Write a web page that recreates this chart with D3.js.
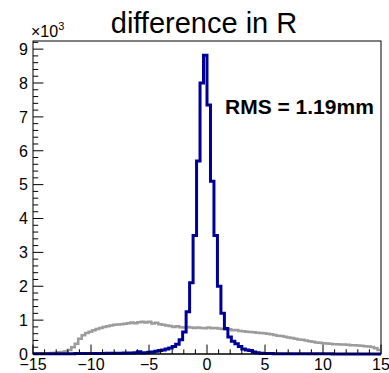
<!DOCTYPE html>
<html>
<head>
<meta charset="utf-8">
<script src="https://cdn.jsdelivr.net/npm/d3@7"></script>
<style>
  html, body { margin: 0; padding: 0; background: #fff; }
  svg { display: block; }
  text { font-family: "Liberation Sans", Arial, Helvetica, sans-serif; }
</style>
</head>
<body>
<svg id="chart" width="389" height="373"></svg>
<script>
// ---- data ----
const title = "difference in R";
const xMin = -15, xMax = 15, nBins = 100;
const xTicks = [-15, -10, -5, 0, 5, 10, 15];
const yTicks = [0, 1000, 2000, 3000, 4000, 5000, 6000, 7000, 8000, 9000];
const yTickLabels = ["0", "1", "2", "3", "4", "5", "6", "7", "8", "9"];
const rmsLabel = "RMS = 1.19mm";

// blue histogram (counts per bin, 0.3 mm bins from -15 to 15)
const blueCounts = [
  5, 5, 6, 6, 7, 7, 8, 8, 9, 10,
  10, 11, 12, 12, 13, 14, 15, 15, 16, 18,
  18, 19, 20, 22, 23, 24, 26, 28, 30, 35,
  65, 30, 35, 50, 60, 80, 100, 120, 150, 180,
  220, 290, 420, 650, 1250, 2100, 3500, 5700, 8000, 8820,
  7350, 5100, 3500, 2000, 1200, 750, 500, 380, 300, 220,
  150, 120, 100, 60, 35, 25, 18, 14, 12, 10,
  9, 8, 8, 7, 7, 6, 6, 5, 5, 5,
  5, 4, 4, 4, 4, 4, 3, 3, 3, 3,
  3, 3, 3, 3, 2, 2, 2, 2, 2, 2
];
// gray histogram
const grayCounts = [
  10, 10, 15, 20, 25, 30, 40, 50, 60, 80,
  120, 200, 300, 450, 550, 620, 660, 700, 740, 770,
  800, 820, 840, 860, 870, 880, 890, 910, 930, 910,
  940, 950, 930, 950, 900, 920, 880, 860, 840, 830,
  800, 820, 790, 780, 800, 780, 770, 780, 770, 760,
  780, 760, 770, 750, 740, 720, 730, 700, 710, 680,
  670, 660, 650, 640, 630, 620, 610, 600, 580, 560,
  540, 530, 510, 490, 470, 450, 430, 420, 400, 380,
  360, 340, 330, 320, 310, 300, 290, 290, 280, 280,
  270, 260, 260, 250, 240, 230, 220, 210, 170, 120
];

// ---- layout ----
const svg = d3.select("#chart");
const frame = { left: 33, right: 381, top: 41, bottom: 354 };
const x = d3.scaleLinear().domain([xMin, xMax]).range([frame.left, frame.right]);
const y = d3.scaleLinear().domain([0, 9240]).range([frame.bottom, frame.top]);

const binW = (xMax - xMin) / nBins;
function stepPoints(counts) {
  const pts = [];
  counts.forEach((c, i) => {
    const x0 = xMin + i * binW, x1 = x0 + binW;
    pts.push([x0, c], [x1, c]);
  });
  return pts;
}
const line = d3.line().x(d => x(d[0])).y(d => y(d[1]));

const clip = svg.append("clipPath").attr("id", "fclip")
  .append("rect")
  .attr("x", frame.left).attr("y", frame.top)
  .attr("width", frame.right - frame.left).attr("height", frame.bottom - frame.top + 2);

// frame
svg.append("rect")
  .attr("x", frame.left).attr("y", frame.top)
  .attr("width", frame.right - frame.left).attr("height", frame.bottom - frame.top)
  .attr("fill", "none").attr("stroke", "#000").attr("stroke-width", 1);

// histograms
svg.append("path")
  .attr("d", line(stepPoints(grayCounts)))
  .attr("fill", "none").attr("stroke", "#9c9c9c").attr("stroke-width", 2.5)
  .attr("clip-path", "url(#fclip)");
svg.append("path")
  .attr("d", line(stepPoints(blueCounts)))
  .attr("fill", "none").attr("stroke", "#000099").attr("stroke-width", 3)
  .attr("clip-path", "url(#fclip)");

// x axis (bottom)
const xAxis = d3.axisTop(x).tickValues(d3.range(xMin, xMax + 0.001, 1))
  .tickSize(0).tickFormat("");
const gx = svg.append("g").attr("transform", `translate(0,${frame.bottom})`);
d3.range(xMin, xMax + 0.001, 1).forEach(v => {
  const major = xTicks.includes(v);
  gx.append("line")
    .attr("x1", x(v)).attr("x2", x(v))
    .attr("y1", 0).attr("y2", major ? -9.4 : -4.7)
    .attr("stroke", "#000").attr("stroke-width", 1);
});
gx.append("line").attr("x1", frame.left).attr("x2", frame.right)
  .attr("y1", 0).attr("y2", 0).attr("stroke", "#000");
xTicks.forEach(v => {
  gx.append("text")
    .attr("x", x(v)).attr("y", 16)
    .attr("text-anchor", "middle")
    .attr("font-size", 16)
    .text(v < 0 ? "\u2212" + Math.abs(v) : String(v));
});

// y axis (left)
const gy = svg.append("g").attr("transform", `translate(${frame.left},0)`);
d3.range(0, 9240, 200).forEach(v => {
  const major = v % 1000 === 0;
  gy.append("line")
    .attr("x1", 0).attr("x2", major ? 10.4 : 5.2)
    .attr("y1", y(v)).attr("y2", y(v))
    .attr("stroke", "#000").attr("stroke-width", 1);
});
yTicks.forEach((v, i) => {
  gy.append("text")
    .attr("x", -5).attr("y", y(v) + 5.8)
    .attr("text-anchor", "end")
    .attr("font-size", 16)
    .text(yTickLabels[i]);
});

// exponent label
const ex = svg.append("text").attr("x", 31).attr("y", 37).attr("font-size", 16);
ex.append("tspan").text("\u00d710");
ex.append("tspan").attr("dy", -7).attr("font-size", 11).text("3");

// title
svg.append("text")
  .attr("x", 204).attr("y", 33)
  .attr("text-anchor", "middle")
  .attr("font-size", 29)
  .text(title);

// RMS label
svg.append("text")
  .attr("x", 225).attr("y", 114)
  .attr("font-size", 21).attr("font-weight", "bold")
  .text(rmsLabel);
</script>
</body>
</html>
